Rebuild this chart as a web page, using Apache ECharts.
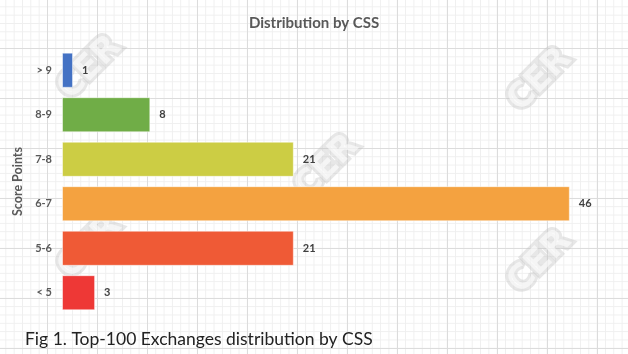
<!DOCTYPE html>
<html>
<head>
<meta charset="utf-8">
<style>
  html, body { margin: 0; padding: 0; }
  body {
    width: 628px; height: 354px; overflow: hidden;
    background-color: #fff;
    background-image:
      linear-gradient(to right, #dcdcdc 1px, transparent 1px),
      linear-gradient(to bottom, #dcdcdc 1px, transparent 1px),
      linear-gradient(to right, #efefef 1px, transparent 1px),
      linear-gradient(to bottom, #efefef 1px, transparent 1px);
    background-size: 50px 50px, 50px 50px, 8.333px 8.333px, 8.333px 8.333px;
    background-position: 47px 48px, 47px 48px, 47px 48px, 47px 48px;
  }
  #chart { width: 628px; height: 354px; }
</style>
<script src="https://cdn.jsdelivr.net/npm/echarts@6/dist/echarts.min.js"></script>
</head>
<body>
<div id="chart"></div>
<script>
  // data
  var categories = ['> 9', '8-9', '7-8', '6-7', '5-6', '< 5'];
  var counts = [1, 8, 21, 46, 21, 3];
  var barColors = ['#4472c4', '#70ad47', '#cccd44', '#f4a240', '#ef5a36', '#ee3836'];

  var chart = echarts.init(document.getElementById('chart'), null, { renderer: 'canvas' });

  // watermark spots (decoration only)
  var marks = [[90, 68], [540, 80], [327, 167], [90, 247], [540, 262]];
  var graphics = marks.map(function(p) {
    return {
      type: 'text',
      x: p[0], y: p[1],
      rotation: Math.PI / 4,
      z: -1,
      silent: true,
      style: {
        text: 'CER',
        fontFamily: 'DejaVu Sans',
        fontWeight: 'bold',
        fontSize: 34,
        fill: 'rgba(255,255,255,0.6)',
        stroke: 'rgba(195,195,195,0.4)',
        lineWidth: 6,
        align: 'center',
        verticalAlign: 'middle'
      }
    };
  });
  graphics.push({
    type: 'text',
    left: 25, top: 330,
    style: {
      text: 'Fig 1. Top-100 Exchanges distribution by CSS',
      fontFamily: 'Lato',
      fontSize: 17.5,
      fill: '#222'
    }
  });

  chart.setOption({
    animation: false,
    backgroundColor: 'transparent',
    title: {
      text: 'Distribution by CSS',
      left: 'center',
      top: 11,
      textStyle: { fontFamily: 'Lato', fontSize: 15, fontWeight: 'bold', color: '#595959' }
    },
    graphic: graphics,
    grid: { left: 62, right: 14, top: 48, bottom: 39 },
    xAxis: {
      type: 'value',
      min: 0,
      max: 50,
      show: false
    },
    yAxis: {
      type: 'category',
      data: categories,
      inverse: true,
      name: 'Score Points',
      nameLocation: 'middle',
      nameGap: 36,
      nameTextStyle: { fontFamily: 'Lato', fontSize: 12.5, fontWeight: 'bold', color: '#595959' },
      axisLine: { show: false },
      axisTick: { show: false },
      axisLabel: { fontFamily: 'Lato', fontSize: 11, fontWeight: 'bold', color: '#595959', margin: 10 }
    },
    series: [{
      type: 'bar',
      data: counts.map(function(v, i) {
        return { value: v, itemStyle: { color: barColors[i] } };
      }),
      barCategoryGap: '21%',
      itemStyle: { borderColor: 'rgba(255,255,255,0.5)', borderWidth: 1 },
      label: {
        show: true,
        position: 'right',
        distance: 9,
        fontFamily: 'Lato',
        fontSize: 11,
        fontWeight: 'bold',
        color: '#404040'
      }
    }]
  });
</script>
</body>
</html>
